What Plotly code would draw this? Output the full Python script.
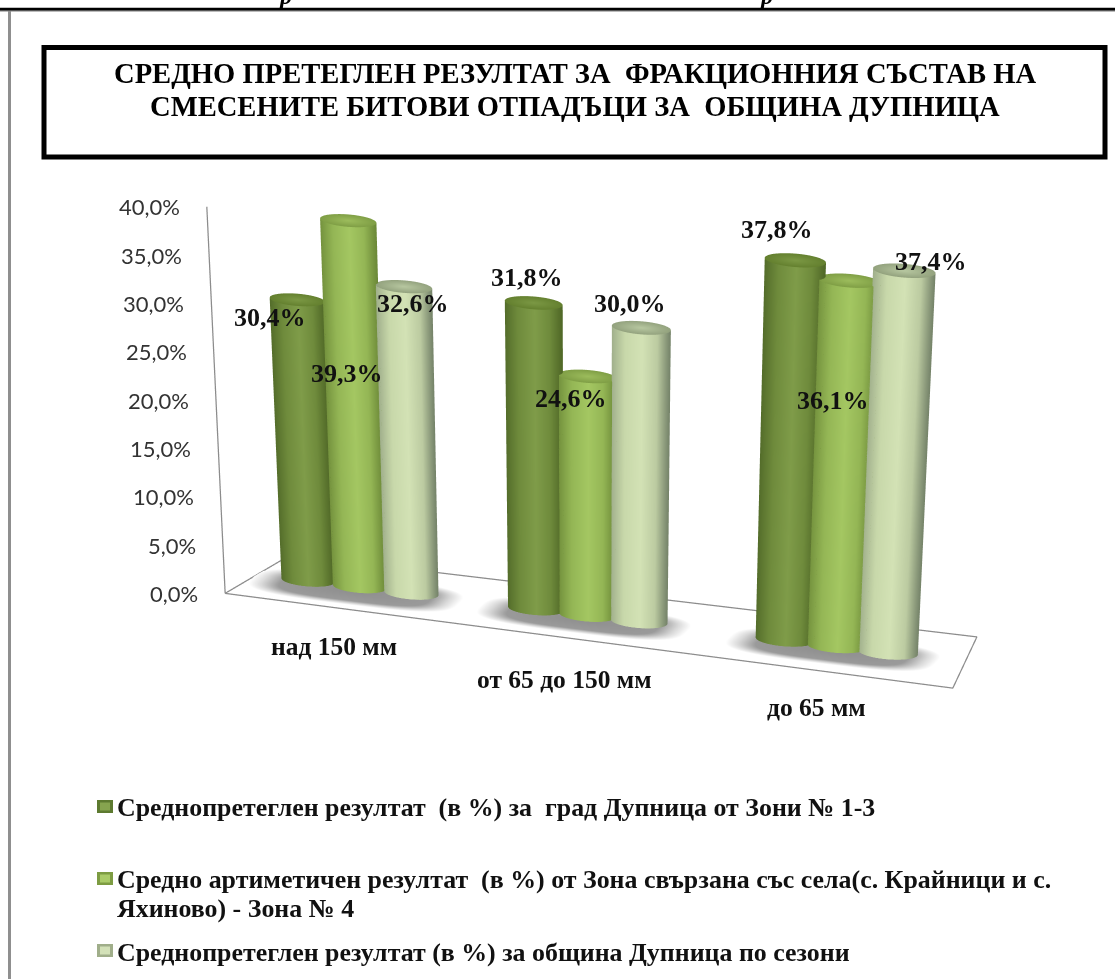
import numpy as np
import plotly.graph_objects as go

W, H = 1115, 979

categories = ["над 150 мм", "от 65 до 150 мм", "до 65 мм"]
series_names = [
    "Среднопретеглен резултат \u00a0(в %) за \u00a0град Дупница от Зони № 1-3",
    "Средно артиметичен резултат \u00a0(в %) от Зона свързана със села(с. Крайници и с.<br>Яхиново) - Зона № 4",
    "Среднопретеглен резултат (в %) за община Дупница по сезони",
]
city = [30.4, 31.8, 37.8]
villages = [39.3, 24.6, 36.1]
municipality = [32.6, 30.0, 37.4]
label_text = [["30,4%", "31,8%", "37,8%"], ["39,3%", "24,6%", "36,1%"], ["32,6%", "30,0%", "37,4%"]]
z_ticks = [0, 5, 10, 15, 20, 25, 30, 35, 40]
z_tick_text = ["0,0%", "5,0%", "10,0%", "15,0%", "20,0%", "25,0%", "30,0%", "35,0%", "40,0%"]
title_line_1 = "СРЕДНО ПРЕТЕГЛЕН РЕЗУЛТАТ ЗА \u00a0ФРАКЦИОННИЯ СЪСТАВ НА"
title_line_2 = "СМЕСЕНИТЕ БИТОВИ ОТПАДЪЦИ ЗА \u00a0ОБЩИНА ДУПНИЦА"

# label pixel offsets from the top of each cylinder (series, category)
label_dx = [[-27, -7, -18], [-1, -17, -16], [9, -11, 27]]
label_dy = [[-18, 25, 31], [-153, -22, -120], [-17, 24, 9]]

body_scales = [
    [[0, "#536c2a"], [0.25, "#6f8b3c"], [0.55, "#7f9c49"], [0.8, "#6f8b3c"], [1, "#506827"]],
    [[0, "#73913d"], [0.25, "#94b655"], [0.55, "#a4c762"], [0.8, "#94b655"], [1, "#6c8938"]],
    [[0, "#9fae8b"], [0.25, "#c8d8aa"], [0.55, "#d3e2b5"], [0.8, "#bccba1"], [1, "#76846a"]],
]
cap_scales = [
    [[0, "#7b9844"], [1, "#64802f"]],
    [[0, "#9cbc5c"], [1, "#7f9e45"]],
    [[0, "#b7c7a0"], [1, "#93a27e"]],
]
SERIF = "Liberation Serif"
SANS = "Lato"

GROUP_X = [0.43, 1.40, 2.46]
OFFSET = 0.22
RX, RY = 0.117, 0.13
YC = 0.5
X0, SPREAD = 1.39, 0.054   # slight widening towards the top of the z axis
NEAR = 0.045               # nearer (right-hand) cylinders are drawn a little larger
AXIS_Z = 0.99
FLOOR_X = [-0.055, 3.059, 2.957, 0.047, -0.055]
FLOOR_Y = [0.042, -0.04, 1.026, 0.955, 0.042]
FLAT = dict(ambient=1, diffuse=0, specular=0, fresnel=0)


def spread(x, z):
    return X0 + (np.asarray(x) - X0) * (1 + SPREAD * np.asarray(z) / 40)


def nearness(cx):
    return 1 + NEAR * (cx - 1.4)


def cylinder(cx, value, s):
    g = nearness(cx)
    top = value * g
    t = np.linspace(0, 2 * np.pi, 73)
    T, Z = np.meshgrid(t, np.array([0.0, top]))
    X = spread(cx + g * RX * np.cos(T), Z)
    Y = YC + g * RY * np.sin(T)
    across = np.cos(T - np.radians(8))
    body = go.Surface(x=X, y=Y, z=Z, surfacecolor=across, cmin=-1, cmax=1,
                      colorscale=body_scales[s], showscale=False, hoverinfo="skip", lighting=FLAT)
    R, T2 = np.meshgrid(np.linspace(0, 1, 12), t)
    cap = go.Surface(x=spread(cx + g * RX * R * np.cos(T2), top), y=YC + g * RY * R * np.sin(T2),
                     z=np.full(R.shape, top), surfacecolor=R, cmin=0, cmax=1,
                     colorscale=cap_scales[s], showscale=False, hoverinfo="skip", lighting=FLAT)
    return [body, cap]


def shadow(cx):
    R, T = np.meshgrid(np.linspace(0, 1, 20), np.linspace(0, 2 * np.pi, 73))
    c, s = np.cos(T), np.sin(T)
    X = cx + 0.44 * R * np.sign(c) * np.abs(c) ** 0.6
    Y = YC - 0.08 + 0.30 * R * np.sign(s) * np.abs(s) ** 0.6
    return go.Surface(x=X, y=Y, z=np.zeros(R.shape), surfacecolor=R, cmin=0, cmax=1,
                      colorscale=[[0, "#8e8e8e"], [0.72, "#9a9a9a"], [0.88, "#d8d8d8"], [1, "#ffffff"]],
                      showscale=False, hoverinfo="skip", lighting=FLAT)


fig = go.Figure()
for gx in GROUP_X:
    fig.add_trace(shadow(gx))

series = [city, villages, municipality]
scene_ann = []
for s, vals in enumerate(series):
    for c, v in enumerate(vals):
        cx = GROUP_X[c] + (s - 1) * OFFSET
        for tr in cylinder(cx, v, s):
            fig.add_trace(tr)
        top = v * nearness(cx)
        scene_ann.append(dict(x=float(spread(cx, top)), y=YC, z=top, text=f"<b>{label_text[s][c]}</b>", showarrow=False,
                              xshift=label_dx[s][c], yshift=label_dy[s][c],
                              font=dict(family=SERIF, size=26, color="#111111")))

zr = [0, 40]
GREY = dict(color="#8c8c8c", width=2.5)
fig.add_trace(go.Scatter3d(x=FLOOR_X, y=FLOOR_Y, z=[0] * 5, mode="lines", line=GREY, hoverinfo="skip", showlegend=False))
fig.add_trace(go.Scatter3d(x=spread([FLOOR_X[0]] * 2, zr), y=[FLOOR_Y[0]] * 2, z=[0, 40 * AXIS_Z], mode="lines", line=GREY,
                           hoverinfo="skip", showlegend=False))

for t, txt in zip(z_ticks, z_tick_text):
    scene_ann.append(dict(x=float(spread(FLOOR_X[0], t)), y=FLOOR_Y[0], z=t * AXIS_Z, text=txt, showarrow=False,
                          xanchor="right", xshift=-25, font=dict(family=SANS, size=22, color="#333333")))
cat_shift = [(-3, -37), (0, -42), (3, -39)]
for gx, cat, (dx, dy) in zip(GROUP_X, categories, cat_shift):
    scene_ann.append(dict(x=gx, y=0, z=0, text=f"<b>{cat}</b>", showarrow=False, xshift=dx, yshift=dy,
                          font=dict(family=SERIF, size=25.5, color="#111111")))


def px(x):
    return x / W


def py(y):
    return 1 - y / H


hidden = dict(visible=False, showgrid=False, zeroline=False, showticklabels=False, showspikes=False)
D = 2.41
a, b = np.radians(19.4), np.radians(20.7)
scene = dict(
    domain=dict(x=[px(121), px(1101)], y=[py(839), py(9)]),
    xaxis=dict(range=[-0.5, 3.5], **hidden),
    yaxis=dict(range=[-0.5, 1.5], **hidden),
    zaxis=dict(range=zr, **hidden),
    aspectmode="manual",
    aspectratio=dict(x=2.4, y=0.654, z=1.0),
    camera=dict(eye=dict(x=D * np.cos(b) * np.sin(a), y=-D * np.cos(b) * np.cos(a), z=D * np.sin(b)),
                center=dict(x=0, y=0, z=0), up=dict(x=0, y=0, z=1),
                projection=dict(type="orthographic")),
    bgcolor="#ffffff",
    annotations=scene_ann,
)

shapes = [
    dict(type="line", xref="paper", yref="paper", x0=0, x1=1, y0=py(9.3), y1=py(9.3), line=dict(color="#000000", width=3)),
    dict(type="line", xref="paper", yref="paper", x0=0, x1=1, y0=py(11.3), y1=py(11.3), line=dict(color="#aaaaaa", width=1)),
    dict(type="line", xref="paper", yref="paper", x0=px(9.5), x1=px(9.5), y0=py(11), y1=0, line=dict(color="#8f8f8f", width=3)),
    dict(type="rect", xref="paper", yref="paper", x0=px(44), x1=px(1105), y0=py(157), y1=py(47.5),
         line=dict(color="#000000", width=5), fillcolor="rgba(255,255,255,0)"),
]
legend_line_y = [[807], [879, 908], [952]]
legend_marker_y = [806.5, 878.5, 950.5]
marker_outer = ["#5d7a30", "#7d9c42", "#a0ae8a"]
marker_inner = ["#86a44f", "#aacb68", "#d3e1b8"]
annotations = [
    dict(xref="paper", yref="paper", x=px(575), y=py(73), yanchor="middle", text=f"<b>{title_line_1}</b>", showarrow=False,
         font=dict(family=SERIF, size=28.6, color="#000000")),
    dict(xref="paper", yref="paper", x=px(575), y=py(107), yanchor="middle", text=f"<b>{title_line_2}</b>", showarrow=False,
         font=dict(family=SERIF, size=28.6, color="#000000")),
    dict(xref="paper", yref="paper", x=px(276), y=py(11), yanchor="bottom", text="<b><i>р</i></b>", showarrow=False,
         font=dict(family=SERIF, size=24, color="#000000")),
    dict(xref="paper", yref="paper", x=px(775), y=py(11), yanchor="bottom", text="<b><i>р</i></b>", showarrow=False,
         font=dict(family=SERIF, size=24, color="#000000")),
]
for name, lys, my, mo, mi in zip(series_names, legend_line_y, legend_marker_y, marker_outer, marker_inner):
    for line, ly in zip(name.split("<br>"), lys):
        annotations.append(dict(xref="paper", yref="paper", x=px(115), y=py(ly), xanchor="left", yanchor="middle",
                                align="left", text=f"<b>{line}</b>", showarrow=False,
                                font=dict(family=SERIF, size=25.9, color="#111111")))
    shapes.append(dict(type="rect", xref="paper", yref="paper", x0=px(97), x1=px(113), y0=py(my + 6.5), y1=py(my - 6.5),
                       line=dict(width=0), fillcolor=mo))
    shapes.append(dict(type="rect", xref="paper", yref="paper", x0=px(100), x1=px(110), y0=py(my + 4), y1=py(my - 4),
                       line=dict(width=0), fillcolor=mi))

fig.update_layout(width=W, height=H, margin=dict(l=0, r=0, t=0, b=0), paper_bgcolor="#ffffff",
                  showlegend=False, scene=scene, shapes=shapes, annotations=annotations)
fig.write_html("out.html", config=dict(displayModeBar=False),
               post_script="document.body.style.margin='0';document.documentElement.style.overflow='hidden';")
